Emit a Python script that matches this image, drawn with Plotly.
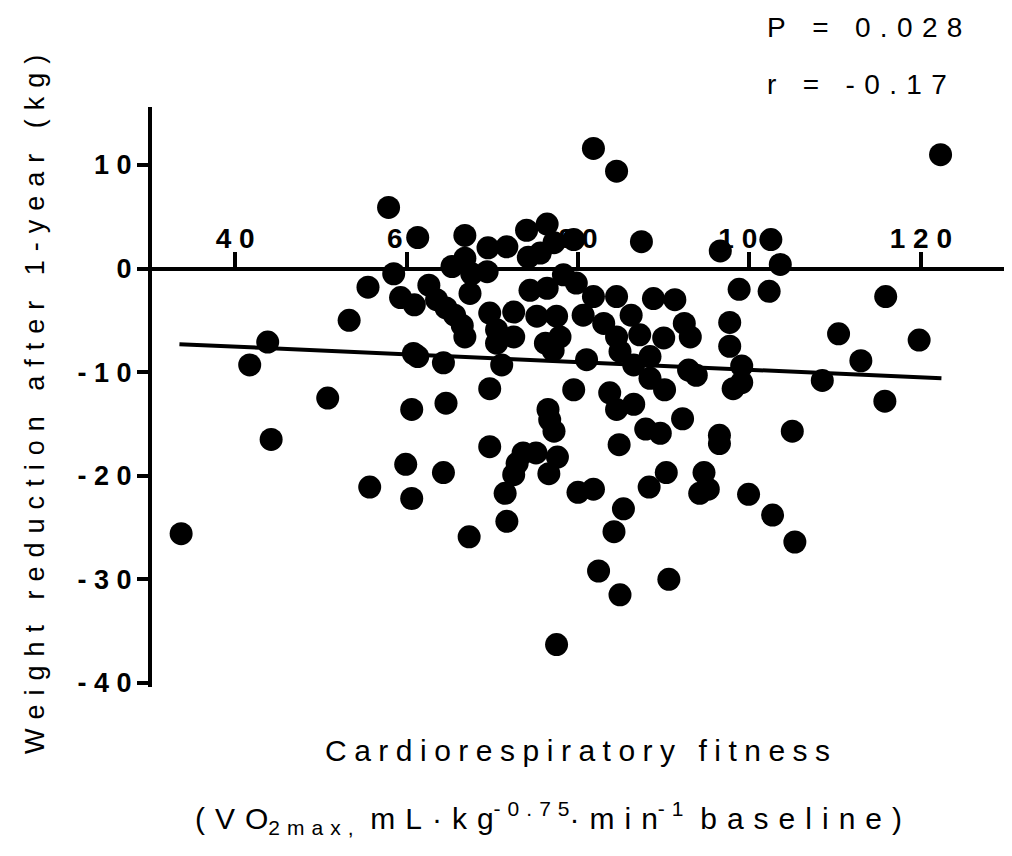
import plotly.graph_objects as go

# ---- data ----
fitness = [
    33.7, 41.7, 43.8, 44.2, 50.8, 53.3, 55.5, 55.7,
    57.9, 58.5, 59.3, 61.3, 60.9, 60.8, 61.3, 60.6, 59.9, 60.6, 62.6, 63.5,
    64.6, 65.6, 66.5, 66.8, 64.3, 64.6, 64.3, 65.3,
    66.8, 66.8, 67.6, 67.4, 69.5, 69.4, 69.7, 72.5, 70.5, 72.5, 70.5, 71.1,
    69.7, 69.7, 67.3, 71.7, 71.5, 72.5, 72.9, 73.6, 71.7, 74.0, 74.2, 75.6,
    74.4, 75.2, 75.1,
    76.4, 77.2, 79.5, 76.4, 78.3, 79.8, 81.8, 77.5, 77.9, 77.1, 76.2, 80.6,
    81.0, 79.5, 76.5, 76.7, 77.2, 77.6, 76.6, 77.5, 80.0, 81.8, 82.4, 81.8,
    84.5, 87.4, 84.5, 88.8, 91.3, 83.0, 84.5, 84.9, 86.2, 87.2, 90.0, 88.4,
    86.5, 88.4, 90.1, 92.4, 93.1, 92.9, 93.8, 83.7, 84.5, 86.5, 92.2, 87.9,
    89.6, 84.8, 88.3, 90.3, 85.3, 84.2, 90.6, 84.9,
    96.6, 102.5, 103.6, 98.8, 102.3, 115.9, 97.7, 97.7, 110.4, 119.8, 113.0,
    99.1, 99.1, 98.1, 108.5, 115.8, 96.5, 96.5, 105.0, 94.7, 95.2, 94.2,
    99.9, 102.7, 105.3, 122.3,
]
weight_change = [
    -25.6, -9.3, -7.1, -16.5, -12.5, -5.0, -1.8, -21.1,
    5.9, -0.5, -2.8, 3.0, -3.5, -8.2, -8.5, -13.6, -18.9, -22.2, -1.6, -3.0,
    -3.8, -4.5, -5.5, -6.6, -9.1, -13.0, -19.7, 0.2,
    3.2, 1.0, -0.5, -2.4, 2.0, -0.3, -4.3, -4.2, -5.9, -6.6, -7.2, -9.3,
    -11.6, -17.2, -25.9, -24.4, -21.7, -19.9, -18.8, -17.8, 2.1, 3.7, 1.1, 1.5,
    -2.1, -4.6, -17.8,
    4.3, 2.5, 2.8, -1.9, -0.6, -1.4, -2.7, -4.6, -6.6, -7.9, -7.2, -4.5,
    -8.8, -11.7, -13.6, -14.6, -15.7, -18.2, -19.8, -36.3, -21.6, -21.3, -29.2, 11.6,
    9.4, 2.6, -2.7, -2.9, -3.0, -5.3, -6.6, -8.0, -4.5, -6.4, -6.7, -8.5,
    -9.3, -10.6, -11.7, -5.3, -6.6, -9.8, -10.3, -12.0, -13.6, -13.1, -14.5, -15.5,
    -15.9, -17.0, -21.1, -19.7, -23.2, -25.4, -30.0, -31.5,
    1.7, 2.8, 0.4, -2.0, -2.2, -2.7, -5.2, -7.5, -6.3, -6.9, -8.9,
    -9.4, -11.0, -11.6, -10.8, -12.8, -16.1, -16.9, -15.7, -19.7, -21.3, -21.7,
    -21.8, -23.8, -26.4, 11.0,
]
fit_x = [33.5, 122.4]
fit_y = [-7.3, -10.6]
x_ticks = [40, 60, 80, 100, 120]
y_ticks = [10, 0, -10, -20, -30, -40]
stats_text = ["P = 0.028", "r = -0.17"]
y_title = "Weight reduction after 1-year (kg)"
x_title = "Cardiorespiratory fitness"

X_RANGE = [30.3, 130.4]
Y_RANGE = [-40.4, 15.6]

TS = "\u2009"   # thin space
FS = "\u2005"   # four-per-em space
TH = "\u2004"   # three-per-em space


def sp(s, gap=TS):
    return gap.join(s)


FONT = "Liberation Sans, Arial, sans-serif"

# the page body adds an 8px offset; work in page pixels and convert
OFF = 8
W_FIG, H_FIG = 1012 - OFF, 856 - OFF
PL, PR, PT, PB = 152, 1010, 107, 687     # plot area in page pixels
L, T = PL - OFF, PT - OFF
R = W_FIG - (PR - OFF)
B = H_FIG - (PB - OFF)
PW = PR - PL
PH = PB - PT


def px2x(px):
    return (px - PL) / PW


def py2y(py):
    return (PB - py) / PH


fig = go.Figure()
fig.add_trace(go.Scatter(
    x=fitness, y=weight_change, mode="markers",
    marker=dict(size=23, color="black", line=dict(width=0)),
    showlegend=False, cliponaxis=False,
))
fig.add_trace(go.Scatter(
    x=fit_x, y=fit_y, mode="lines",
    line=dict(color="black", width=4),
    showlegend=False,
))

zero_pos = (0 - Y_RANGE[0]) / (Y_RANGE[1] - Y_RANGE[0])

fig.update_layout(
    width=W_FIG, height=H_FIG,
    margin=dict(l=L, r=R, t=T, b=B, autoexpand=False),
    paper_bgcolor="white", plot_bgcolor="white",
    font=dict(family=FONT, color="black"),
    xaxis=dict(
        range=X_RANGE, anchor="free", position=zero_pos, side="top",
        showline=True, linecolor="black", linewidth=4,
        ticks="outside", ticklen=15, tickwidth=4, tickcolor="black",
        tickvals=x_ticks, ticktext=[sp(str(v), " ") for v in x_ticks],
        tickfont=dict(size=28, family=FONT, weight="bold", color="black"),
        ticklabelstandoff=-8,
        showgrid=False, zeroline=False, automargin=False,
    ),
    yaxis=dict(
        range=Y_RANGE,
        showline=True, linecolor="black", linewidth=4,
        ticks="outside", ticklen=11, tickwidth=4, tickcolor="black",
        tickvals=y_ticks, ticktext=[sp(str(v), " ") for v in y_ticks],
        tickfont=dict(size=27, family=FONT, weight="bold", color="black"),
        showgrid=False, zeroline=False, automargin=False,
    ),
)

# P and r
fig.add_annotation(xref="paper", yref="paper", x=px2x(765), y=py2y(28),
                   xanchor="left", yanchor="middle", showarrow=False,
                   text=sp(stats_text[0], TH),
                   font=dict(family=FONT, size=28, color="black"))
fig.add_annotation(xref="paper", yref="paper", x=px2x(765), y=py2y(84),
                   xanchor="left", yanchor="middle", showarrow=False,
                   text=sp(stats_text[1], TH),
                   font=dict(family=FONT, size=28, color="black"))
# y title
fig.add_annotation(xref="paper", yref="paper", x=px2x(35), y=py2y(405),
                   xanchor="center", yanchor="middle", showarrow=False,
                   textangle=-90, text=sp(y_title, TH),
                   font=dict(family=FONT, size=27, color="black"))
# x title line 1
fig.add_annotation(xref="paper", yref="paper", x=px2x(577), y=py2y(750),
                   xanchor="center", yanchor="middle", showarrow=False,
                   text=sp(x_title, FS),
                   font=dict(family=FONT, size=30, color="black"))
# x title line 2
line2 = (sp("(VO", TH) + "<sub>" + sp("2max,", TH) + "</sub>  "
         + sp("mL·kg", TH) + "<sup>" + sp("-0.75", TH) + "</sup>"
         + sp("·min", TH) + "<sup>" + sp("-1", TH) + "</sup>  "
         + sp("baseline)", TH))
fig.add_annotation(xref="paper", yref="paper", x=px2x(548), y=py2y(818),
                   xanchor="center", yanchor="middle", showarrow=False,
                   text=line2,
                   font=dict(family=FONT, size=30, color="black"))

fig.write_html("out.html")
